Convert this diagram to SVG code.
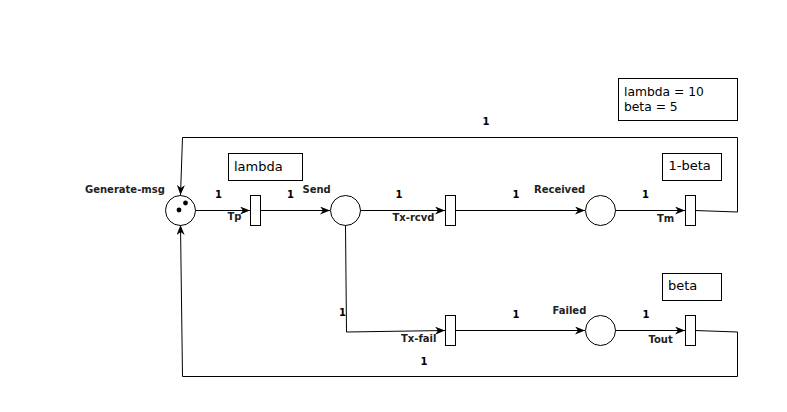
<svg xmlns="http://www.w3.org/2000/svg" width="787" height="412" viewBox="0 0 787 412">
  <defs>
    <marker id="arrow" markerWidth="10" markerHeight="8" refX="10" refY="4" orient="auto" markerUnits="userSpaceOnUse">
      <path d="M0,0 L10,4 L0,8 L3,4 z" fill="#000"/>
    </marker>
  </defs>
  <style>
    .place { fill: #fff; stroke: #000; stroke-width: 1; }
    .trans { fill: #fff; stroke: #000; stroke-width: 1; }
    .note { fill: #fff; stroke: #000; stroke-width: 1; }
    .arc { fill: none; stroke: #000; stroke-width: 1; }
    .lbl { font-family: "DejaVu Sans", sans-serif; font-size: 10px; font-weight: bold; fill: #222; }
    .w { font-family: "DejaVu Sans", sans-serif; font-size: 10px; font-weight: bold; fill: #000; }
    .txt { font-family: "DejaVu Sans", sans-serif; font-size: 13px; fill: #000; }
    .par { font-family: "DejaVu Sans", sans-serif; font-size: 12.3px; fill: #000; }
  </style>
  <rect width="787" height="412" fill="#fff"/>

  <!-- arcs -->
  <g id="connectors">
    <path class="arc" d="M195,210.5 L250,210.5" marker-end="url(#arrow)"/>
    <path class="arc" d="M260,210.5 L330,210.5" marker-end="url(#arrow)"/>
    <path class="arc" d="M360,210.5 L445,210.5" marker-end="url(#arrow)"/>
    <path class="arc" d="M455,210.5 L585,210.5" marker-end="url(#arrow)"/>
    <path class="arc" d="M615,210.5 L685,210.5" marker-end="url(#arrow)"/>
    <path class="arc" d="M695,210.5 L737.5,212 L737.5,137.5 L182.5,137.5 L180.5,195" marker-end="url(#arrow)"/>
    <path class="arc" d="M345.5,225 L346.5,332 L445,330.5" marker-end="url(#arrow)"/>
    <path class="arc" d="M455,330.5 L585,330.5" marker-end="url(#arrow)"/>
    <path class="arc" d="M615,330.5 L685,330.5" marker-end="url(#arrow)"/>
    <path class="arc" d="M695,330.5 L737.5,332 L737.5,376.5 L182.5,376.5 L180.5,225" marker-end="url(#arrow)"/>
    <text class="w" x="215" y="198">1</text>
    <text class="w" x="287" y="198">1</text>
    <text class="w" x="395.5" y="198">1</text>
    <text class="w" x="512.5" y="198">1</text>
    <text class="w" x="642" y="198">1</text>
    <text class="w" x="482.5" y="125">1</text>
    <text class="w" x="339" y="316">1</text>
    <text class="w" x="512.5" y="318">1</text>
    <text class="w" x="642.5" y="318">1</text>
    <text class="w" x="420.5" y="365">1</text>
  </g>

  <g id="generate-msg">
    <circle class="place" cx="180.5" cy="210.5" r="15"/>
    <circle cx="185.5" cy="203" r="2.4" fill="#000"/>
    <circle cx="179" cy="210" r="2.4" fill="#000"/>
    <text class="lbl" x="85" y="193">Generate-msg</text>
  </g>

  <g id="tp">
    <rect class="trans" x="250.5" y="195.5" width="10" height="30"/>
    <text class="lbl" x="227.5" y="220">Tp</text>
  </g>

  <g id="send">
    <circle class="place" cx="345.5" cy="210.5" r="15"/>
    <text class="lbl" x="302.5" y="192.5">Send</text>
  </g>

  <g id="tx-rcvd">
    <rect class="trans" x="445.5" y="195.5" width="10" height="30"/>
    <text class="lbl" x="392.5" y="221">Tx-rcvd</text>
  </g>

  <g id="received">
    <circle class="place" cx="600.5" cy="210.5" r="15"/>
    <text class="lbl" x="534" y="193">Received</text>
  </g>

  <g id="tm">
    <rect class="trans" x="685.5" y="195.5" width="10" height="30"/>
    <text class="lbl" x="657" y="222">Tm</text>
  </g>

  <g id="tx-fail">
    <rect class="trans" x="445.5" y="315.5" width="10" height="30"/>
    <text class="lbl" x="401" y="342">Tx-fail</text>
  </g>

  <g id="failed">
    <circle class="place" cx="600.5" cy="330.5" r="15"/>
    <text class="lbl" x="552.5" y="313.5">Failed</text>
  </g>

  <g id="tout">
    <rect class="trans" x="685.5" y="315.5" width="10" height="30"/>
    <text class="lbl" x="648.5" y="342.5">Tout</text>
  </g>

  <g id="rate-lambda">
    <rect class="note" x="228.5" y="153.5" width="74" height="27"/>
    <text class="txt" x="234" y="170.5">lambda</text>
  </g>

  <g id="rate-1-beta">
    <rect class="note" x="662.5" y="153.5" width="59" height="27"/>
    <text class="txt" x="668.5" y="170">1-beta</text>
  </g>

  <g id="rate-beta">
    <rect class="note" x="662.5" y="273.5" width="59" height="27"/>
    <text class="txt" x="668" y="290">beta</text>
  </g>

  <g id="parameters">
    <rect class="note" x="618.5" y="78.5" width="119" height="42"/>
    <text class="par" x="624" y="96">lambda = 10</text>
    <text class="par" x="624" y="110.5">beta = 5</text>
  </g>
</svg>
